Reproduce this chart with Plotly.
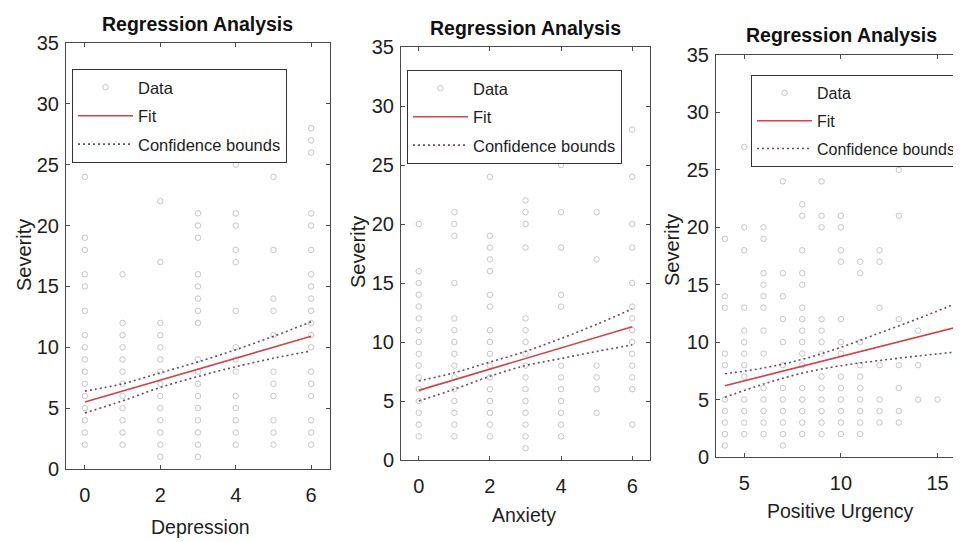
import plotly.graph_objects as go

# ---------------- data ----------------
# Panel 1: Depression vs Severity
dep_levels = [0, 1, 2, 3, 4, 5, 6]
dep_sev = [
    [2, 3, 4, 5, 6, 7, 8, 9, 10, 11, 13, 15, 16, 18, 19, 24],
    [2, 3, 4, 5, 6, 7, 8, 9, 10, 11, 12, 16],
    [1, 2, 3, 4, 5, 6, 7, 8, 9, 10, 11, 12, 17, 22],
    [1, 2, 3, 4, 5, 6, 7, 8, 9, 12, 13, 14, 15, 16, 19, 20, 21],
    [2, 3, 4, 5, 6, 8, 9, 10, 13, 17, 18, 20, 21, 25],
    [2, 3, 4, 6, 7, 8, 11, 13, 14, 18, 24],
    [2, 3, 4, 6, 7, 8, 10, 11, 12, 13, 14, 15, 16, 18, 20, 21, 26, 27, 28],
]
dep_fit_x = [0, 1, 2, 3, 4, 5, 6]
dep_fit = [5.5, 6.4, 7.3, 8.2, 9.1, 10.0, 10.9]
dep_upper = [6.4, 7.0, 7.9, 8.8, 9.8, 10.9, 12.1]
dep_lower = [4.6, 5.6, 6.7, 7.6, 8.4, 9.1, 9.7]

# Panel 2: Anxiety vs Severity
anx_levels = [0, 1, 2, 3, 4, 5, 6]
anx_sev = [
    [2, 3, 4, 5, 6, 7, 8, 9, 10, 11, 12, 13, 14, 15, 16, 20],
    [2, 3, 4, 5, 6, 7, 8, 9, 10, 11, 12, 15, 19, 20, 21],
    [2, 3, 4, 5, 6, 7, 8, 9, 10, 11, 13, 14, 16, 17, 18, 19, 24],
    [1, 2, 3, 4, 5, 6, 7, 8, 9, 10, 11, 12, 18, 20, 21, 22],
    [2, 3, 4, 5, 6, 7, 8, 13, 14, 18, 21, 25],
    [4, 6, 7, 8, 17, 21],
    [3, 6, 7, 8, 9, 10, 11, 12, 13, 15, 18, 20, 24, 28],
]
anx_fit_x = [0, 1, 2, 3, 4, 5, 6]
anx_fit = [5.9, 6.8, 7.7, 8.6, 9.5, 10.4, 11.3]
anx_upper = [6.7, 7.4, 8.3, 9.2, 10.3, 11.5, 12.8]
anx_lower = [5.0, 6.0, 7.1, 8.0, 8.6, 9.2, 9.75]

# Panel 3: Positive Urgency vs Severity
pu_levels = [4, 5, 6, 7, 8, 9, 10, 11, 12, 13, 14, 15, 16]
pu_sev = [
    [1, 2, 3, 4, 5, 8, 9, 13, 14, 19],
    [2, 3, 4, 5, 7, 8, 9, 10, 11, 13, 18, 20, 27],
    [2, 3, 4, 5, 6, 9, 11, 13, 14, 15, 16, 19, 20],
    [1, 2, 3, 4, 5, 6, 8, 10, 12, 14, 16, 24],
    [2, 3, 4, 5, 6, 8, 9, 10, 11, 12, 13, 15, 16, 18, 21, 22],
    [2, 3, 4, 5, 6, 7, 9, 10, 11, 12, 20, 21, 24],
    [2, 3, 4, 5, 6, 7, 9, 10, 12, 17, 18, 20, 21],
    [2, 3, 4, 5, 6, 7, 8, 10, 16, 17],
    [3, 4, 5, 8, 13, 17, 18],
    [3, 4, 6, 8, 12, 21, 25],
    [5, 8, 11],
    [5],
    [5, 16],
]
pu_fit_x = [4, 6, 8, 10, 12, 14, 16]
pu_fit = [6.2, 7.05, 7.9, 8.75, 9.6, 10.45, 11.3]
pu_upper = [7.25, 7.75, 8.5, 9.55, 10.8, 12.05, 13.4]
pu_lower = [5.2, 6.35, 7.3, 7.95, 8.4, 8.8, 9.15]

x_labels = ["Depression", "Anxiety", "Positive Urgency"]
y_label = "Severity"
title_text = "Regression Analysis"
y_ticks = [0, 5, 10, 15, 20, 25, 30, 35]
x_ticks = [[0, 2, 4, 6], [0, 2, 4, 6], [5, 10, 15]]

# ---------------- styling ----------------
FONT = "Liberation Sans, Arial, sans-serif"
DATA_C = "#c6c6c6"
FIT_C = "#c94848"
CB_C = "#6d4a62"
AX_C = "#4a4a4a"
TXT_C = "#1e1e1e"

OFF = 8                      # default page body margin
W, H = 961, 542

def px(xp):
    return (xp - OFF) / W

def py(yp):
    return 1 - (yp - OFF) / H

panels = [
    dict(levels=dep_levels, sev=dep_sev, fx=dep_fit_x, fit=dep_fit, up=dep_upper, lo=dep_lower,
         xdom=(66, 330), ydom=(43, 469), xr=[-0.5, 6.5], leg=(72, 69), legfont=16.5,
         title=(197, 24), xl=(200, 527), yl=(24, 255)),
    dict(levels=anx_levels, sev=anx_sev, fx=anx_fit_x, fit=anx_fit, up=anx_upper, lo=anx_lower,
         xdom=(401, 650), ydom=(47, 460), xr=[-0.5, 6.5], leg=(407, 70), legfont=16.5,
         title=(525, 28), xl=(524, 515), yl=(358, 252)),
    dict(levels=pu_levels, sev=pu_sev, fx=pu_fit_x, fit=pu_fit, up=pu_upper, lo=pu_lower,
         xdom=(716, 953), ydom=(55, 457), xr=[3.54, 15.8], leg=(751, 75), legfont=16,
         title=(841, 35), xl=(840, 511), yl=(672, 250)),
]

fig = go.Figure()
annotations = []
for i, p in enumerate(panels):
    n = i + 1
    xa = "x" if n == 1 else f"x{n}"
    ya = "y" if n == 1 else f"y{n}"
    lg = "legend" if n == 1 else f"legend{n}"
    xs, ys = [], []
    for lv, vals in zip(p["levels"], p["sev"]):
        for v in vals:
            xs.append(lv)
            ys.append(v)
    fig.add_trace(go.Scatter(x=xs, y=ys, mode="markers", name="Data", xaxis=xa, yaxis=ya,
                             legend=lg, legendgroup=f"d{n}", cliponaxis=False,
                             marker=dict(symbol="circle-open", size=5.5, color=DATA_C,
                                         line=dict(width=1, color=DATA_C))))
    fig.add_trace(go.Scatter(x=p["fx"], y=p["fit"], mode="lines", name="Fit", xaxis=xa, yaxis=ya,
                             legend=lg, legendgroup=f"f{n}",
                             line=dict(color=FIT_C, width=1.6)))
    fig.add_trace(go.Scatter(x=p["fx"], y=p["up"], mode="lines", name="Confidence bounds",
                             xaxis=xa, yaxis=ya, legend=lg, legendgroup=f"c{n}",
                             line=dict(color=CB_C, width=1.6, dash="2px,3px", shape="spline")))
    fig.add_trace(go.Scatter(x=p["fx"], y=p["lo"], mode="lines", name="Confidence bounds",
                             xaxis=xa, yaxis=ya, legend=lg, legendgroup=f"c{n}", showlegend=False,
                             line=dict(color=CB_C, width=1.6, dash="2px,3px", shape="spline")))

    x0, x1 = p["xdom"]
    y0, y1 = p["ydom"]
    fig.update_layout({
        ("xaxis" if n == 1 else f"xaxis{n}"): dict(
            domain=[px(x0), min(px(x1), 1.0)], range=p["xr"], anchor=ya,
            tickvals=x_ticks[i], ticks="inside", ticklen=4, tickcolor=AX_C,
            showline=True, linecolor=AX_C, linewidth=1, mirror="ticks",
            showgrid=False, zeroline=False, ticklabelstandoff=8, automargin=False,
            tickfont=dict(family=FONT, size=20, color=TXT_C)),
        ("yaxis" if n == 1 else f"yaxis{n}"): dict(
            domain=[py(y1), py(y0)], range=[0, 35], anchor=xa,
            tickvals=y_ticks, ticks="inside", ticklen=4, tickcolor=AX_C,
            showline=True, linecolor=AX_C, linewidth=1,
            mirror=("ticks" if n < 3 else False),
            showgrid=False, zeroline=False, ticklabelstandoff=2, automargin=False,
            tickfont=dict(family=FONT, size=20, color=TXT_C)),
        lg: dict(x=px(p["leg"][0]), y=py(p["leg"][1]), xanchor="left", yanchor="top",
                 bgcolor="white", bordercolor="#333333", borderwidth=1,
                 font=dict(family=FONT, size=p["legfont"], color=TXT_C),
                 itemwidth=55, tracegroupgap=4, traceorder="grouped"),
    })
    annotations.append(dict(text=f"<b>{title_text}</b>", x=px(p["title"][0]), y=py(p["title"][1]),
                            xref="paper", yref="paper", showarrow=False, xanchor="center",
                            yanchor="middle", font=dict(family=FONT, size=19.5, color="#111111")))
    annotations.append(dict(text=x_labels[i], x=px(p["xl"][0]), y=py(p["xl"][1]),
                            xref="paper", yref="paper", showarrow=False, xanchor="center",
                            yanchor="middle", font=dict(family=FONT, size=19.5, color=TXT_C)))
    annotations.append(dict(text=y_label, x=px(p["yl"][0]), y=py(p["yl"][1]), textangle=-90,
                            xref="paper", yref="paper", showarrow=False, xanchor="center",
                            yanchor="middle", font=dict(family=FONT, size=20, color=TXT_C)))

fig.update_layout(width=W, height=H, margin=dict(l=0, r=0, t=0, b=0, autoexpand=False),
                  template="none", paper_bgcolor="white", plot_bgcolor="white",
                  annotations=annotations, showlegend=True)

fig.write_html("out.html")
